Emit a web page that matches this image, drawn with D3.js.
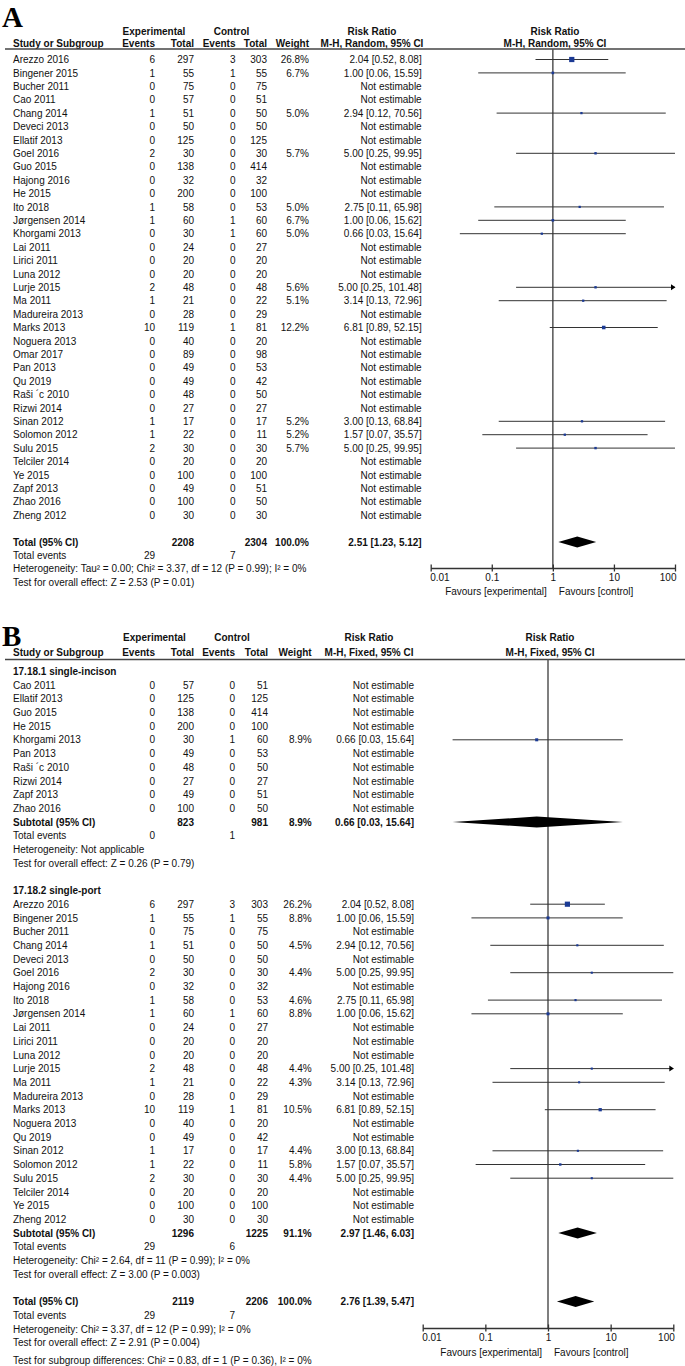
<!DOCTYPE html>
<html><head><meta charset="utf-8">
<script src="https://cdn.jsdelivr.net/npm/d3@7/dist/d3.min.js"></script>
<style>
html,body{margin:0;padding:0;background:#fff;}
svg text{font-family:"Liberation Sans",Arial,sans-serif;font-size:10px;fill:#111;}
</style></head>
<body>
<svg id="c" width="685" height="1366"></svg>
<script>
// ---------------- Panel A data ----------------
const studiesA = ["Arezzo 2016","Bingener 2015","Bucher 2011","Cao 2011","Chang 2014","Deveci 2013","Ellatif 2013","Goel 2016","Guo 2015","Hajong 2016","He 2015","Ito 2018","Jørgensen 2014","Khorgami 2013","Lai 2011","Lirici 2011","Luna 2012","Lurje 2015","Ma 2011","Madureira 2013","Marks 2013","Noguera 2013","Omar 2017","Pan 2013","Qu 2019","Raši ´c 2010","Rizwi 2014","Sinan 2012","Solomon 2012","Sulu 2015","Telciler 2014","Ye 2015","Zapf 2013","Zhao 2016","Zheng 2012"];
const expEventsA = [6,1,0,0,1,0,0,2,0,0,0,1,1,0,0,0,0,2,1,0,10,0,0,0,0,0,0,1,1,2,0,0,0,0,0];
const expTotalA  = [297,55,75,57,51,50,125,30,138,32,200,58,60,30,24,20,20,48,21,28,119,40,89,49,49,48,27,17,22,30,20,100,49,100,30];
const ctrlEventsA= [3,1,0,0,0,0,0,0,0,0,0,0,1,1,0,0,0,0,0,0,1,0,0,0,0,0,0,0,0,0,0,0,0,0,0];
const ctrlTotalA = [303,55,75,51,50,50,125,30,414,32,100,53,60,60,27,20,20,48,22,29,81,20,98,53,42,50,27,17,11,30,20,100,51,50,30];
const weightA    = [26.8,6.7,null,null,5.0,null,null,5.7,null,null,null,5.0,6.7,5.0,null,null,null,5.6,5.1,null,12.2,null,null,null,null,null,null,5.2,5.2,5.7,null,null,null,null,null];
const rrA        = [2.04,1.00,null,null,2.94,null,null,5.00,null,null,null,2.75,1.00,0.66,null,null,null,5.00,3.14,null,6.81,null,null,null,null,null,null,3.00,1.57,5.00,null,null,null,null,null];
const loA        = [0.52,0.06,null,null,0.12,null,null,0.25,null,null,null,0.11,0.06,0.03,null,null,null,0.25,0.13,null,0.89,null,null,null,null,null,null,0.13,0.07,0.25,null,null,null,null,null];
const hiA        = [8.08,15.59,null,null,70.56,null,null,99.95,null,null,null,65.98,15.62,15.64,null,null,null,101.48,72.96,null,52.15,null,null,null,null,null,null,68.84,35.57,99.95,null,null,null,null,null];
const totalA = {expTotal:2208, ctrlTotal:2304, weight:"100.0%", rr:2.51, lo:1.23, hi:5.12, expEv:29, ctrlEv:7};
const hetA = "Heterogeneity: Tau² = 0.00; Chi² = 3.37, df = 12 (P = 0.99); I² = 0%";
const testA = "Test for overall effect: Z = 2.53 (P = 0.01)";

// ---------------- Panel B data ----------------
const group1Title = "17.18.1 single-incison";
const studiesB1 = ["Cao 2011","Ellatif 2013","Guo 2015","He 2015","Khorgami 2013","Pan 2013","Raši ´c 2010","Rizwi 2014","Zapf 2013","Zhao 2016"];
const expEventsB1 = [0,0,0,0,0,0,0,0,0,0];
const expTotalB1  = [57,125,138,200,30,49,48,27,49,100];
const ctrlEventsB1= [0,0,0,0,1,0,0,0,0,0];
const ctrlTotalB1 = [51,125,414,100,60,53,50,27,51,50];
const weightB1    = [null,null,null,null,8.9,null,null,null,null,null];
const rrB1        = [null,null,null,null,0.66,null,null,null,null,null];
const loB1        = [null,null,null,null,0.03,null,null,null,null,null];
const hiB1        = [null,null,null,null,15.64,null,null,null,null,null];
const subB1 = {expTotal:823, ctrlTotal:981, weight:"8.9%", rr:0.66, lo:0.03, hi:15.64, expEv:0, ctrlEv:1};
const hetB1 = "Heterogeneity: Not applicable";
const testB1 = "Test for overall effect: Z = 0.26 (P = 0.79)";

const group2Title = "17.18.2 single-port";
const studiesB2 = ["Arezzo 2016","Bingener 2015","Bucher 2011","Chang 2014","Deveci 2013","Goel 2016","Hajong 2016","Ito 2018","Jørgensen 2014","Lai 2011","Lirici 2011","Luna 2012","Lurje 2015","Ma 2011","Madureira 2013","Marks 2013","Noguera 2013","Qu 2019","Sinan 2012","Solomon 2012","Sulu 2015","Telciler 2014","Ye 2015","Zheng 2012"];
const expEventsB2 = [6,1,0,1,0,2,0,1,1,0,0,0,2,1,0,10,0,0,1,1,2,0,0,0];
const expTotalB2  = [297,55,75,51,50,30,32,58,60,24,20,20,48,21,28,119,40,49,17,22,30,20,100,30];
const ctrlEventsB2= [3,1,0,0,0,0,0,0,1,0,0,0,0,0,0,1,0,0,0,0,0,0,0,0];
const ctrlTotalB2 = [303,55,75,50,50,30,32,53,60,27,20,20,48,22,29,81,20,42,17,11,30,20,100,30];
const weightB2    = [26.2,8.8,null,4.5,null,4.4,null,4.6,8.8,null,null,null,4.4,4.3,null,10.5,null,null,4.4,5.8,4.4,null,null,null];
const rrB2        = [2.04,1.00,null,2.94,null,5.00,null,2.75,1.00,null,null,null,5.00,3.14,null,6.81,null,null,3.00,1.57,5.00,null,null,null];
const loB2        = [0.52,0.06,null,0.12,null,0.25,null,0.11,0.06,null,null,null,0.25,0.13,null,0.89,null,null,0.13,0.07,0.25,null,null,null];
const hiB2        = [8.08,15.59,null,70.56,null,99.95,null,65.98,15.62,null,null,null,101.48,72.96,null,52.15,null,null,68.84,35.57,99.95,null,null,null];
const subB2 = {expTotal:1296, ctrlTotal:1225, weight:"91.1%", rr:2.97, lo:1.46, hi:6.03, expEv:29, ctrlEv:6};
const hetB2 = "Heterogeneity: Chi² = 2.64, df = 11 (P = 0.99); I² = 0%";
const testB2 = "Test for overall effect: Z = 3.00 (P = 0.003)";
const totalB = {expTotal:2119, ctrlTotal:2206, weight:"100.0%", rr:2.76, lo:1.39, hi:5.47, expEv:29, ctrlEv:7};
const hetB = "Heterogeneity: Chi² = 3.37, df = 12 (P = 0.99); I² = 0%";
const testB = "Test for overall effect: Z = 2.91 (P = 0.004)";
const subgroupB = "Test for subgroup differences: Chi² = 0.83, df = 1 (P = 0.36), I² = 0%";

const tickValues = [0.01,0.1,1,10,100];
const tickLabels = ["0.01","0.1","1","10","100"];

// ---------------- helpers ----------------
const svg = d3.select("#c");
const fmt2 = d3.format(".2f");
const ciText = (rr,lo,hi) => rr==null ? "Not estimable" : `${fmt2(rr)} [${fmt2(lo)}, ${fmt2(hi)}]`;

function studyRows(names, ee, et, ce, ct, w, rr, lo, hi){
  return names.map((n,i)=>({type:"study", name:n, ee:ee[i], et:et[i], ce:ce[i], ct:ct[i], w:w[i], rr:rr[i], lo:lo[i], hi:hi[i]}));
}

function drawPanel(p){
  const g = svg.append("g");
  const x = d3.scaleLog().domain([0.01,100]).range(p.xRange);
  const c = p.cols;
  const T = (xx,yy,s,anchor,bold)=> g.append("text").attr("x",xx).attr("y",yy+3.6)
      .attr("text-anchor",anchor||"start").style("font-weight",bold?"bold":"normal").text(s);

  // panel letter
  g.append("text").attr("x",p.letterX).attr("y",p.letterY).text(p.letter)
    .style("font-family","'Liberation Serif','Times New Roman',serif").style("font-size","29px").style("font-weight","bold").style("fill","#000");

  // headers
  T(c.expC, p.h1, "Experimental","middle",true);
  T(c.ctlC, p.h1, "Control","middle",true);
  T(c.rrC, p.h1, "Risk Ratio","middle",true);
  T(p.plotC, p.h1, "Risk Ratio","middle",true);
  T(c.name, p.h2, "Study or Subgroup","start",true);
  T(c.ee, p.h2, "Events","end",true);
  T(c.et, p.h2, "Total","end",true);
  T(c.ce, p.h2, "Events","end",true);
  T(c.ct, p.h2, "Total","end",true);
  T(c.w, p.h2, "Weight","end",true);
  T(c.rrC, p.h2, p.method,"middle",true);
  T(p.plotC, p.h2, p.method,"middle",true);
  g.append("line").attr("x1",5).attr("x2",685).attr("y1",p.lineY).attr("y2",p.lineY)
    .attr("stroke","#444").attr("stroke-width",1.4);

  // vertical line of no effect
  g.append("line").attr("x1",x(1)).attr("x2",x(1)).attr("y1",p.lineY).attr("y2",p.axisY)
    .attr("stroke","#555").attr("stroke-width",1.5);

  const yOf = i => p.y0 + p.dy*i;
  p.rows.forEach((r,i)=>{
    const y = yOf(i) + (r.extra||0);
    if(r.type==="study"){
      T(c.name,y,r.name); T(c.ee,y,r.ee,"end"); T(c.et,y,r.et,"end");
      T(c.ce,y,r.ce,"end"); T(c.ct,y,r.ct,"end");
      if(r.w!=null) T(c.w,y,d3.format(".1f")(r.w)+"%","end");
      T(c.ci,y,ciText(r.rr,r.lo,r.hi),"end");
      if(r.rr!=null){
        const hiC = Math.min(r.hi,100);
        g.append("line").attr("x1",x(r.lo)).attr("x2",x(hiC)).attr("y1",y).attr("y2",y)
          .attr("stroke","#333").attr("stroke-width",1);
        if(r.hi>100){
          const xe = x(100);
          g.append("path").attr("d",`M${xe-4},${y-3}L${xe+0.5},${y}L${xe-4},${y+3}Z`).attr("fill","#000");
        }
        const s = Math.max(2, 5.2*Math.sqrt(r.w/26.5));
        g.append("rect").attr("x",x(r.rr)-s/2).attr("y",y-s/2).attr("width",s).attr("height",s)
          .attr("fill","#1b3a94");
      }
    } else if(r.type==="heading"){
      T(c.name,y,r.text,"start",true);
    } else if(r.type==="pooled"){
      const d = r.d;
      T(c.name,y,r.text,"start",true);
      T(c.et,y,d.expTotal,"end",true); T(c.ct,y,d.ctrlTotal,"end",true);
      T(c.w,y,d.weight,"end",true); T(c.ci,y,ciText(d.rr,d.lo,d.hi),"end",true);
      const h=5.5;
      g.append("path").attr("d",`M${x(d.lo)},${y}L${x(d.rr)},${y-h}L${x(d.hi)},${y}L${x(d.rr)},${y+h}Z`).attr("fill","#000");
    } else if(r.type==="events"){
      T(c.name,y,"Total events"); T(c.ee,y,r.d.expEv,"end"); T(c.ce,y,r.d.ctrlEv,"end");
    } else if(r.type==="text"){
      T(c.name,y,r.text);
    }
  });

  // axis
  const axis = d3.axisBottom(x).tickValues(tickValues).tickFormat((d,i)=>tickLabels[i])
    .tickSizeInner(7).tickSizeOuter(0).tickPadding(2);
  const ag = g.append("g").attr("transform",`translate(0,${p.axisY})`).call(axis);
  ag.select(".domain").attr("stroke","#333").attr("stroke-width",1.5);
  ag.selectAll(".tick line").attr("y1",-3.5).attr("y2",3.5).attr("stroke","#333").attr("stroke-width",1.3);
  ag.selectAll(".tick text").attr("y",6).attr("dy","0.71em").style("font-family","'Liberation Sans',Arial,sans-serif").style("font-size","10px").attr("fill","#111");
  ag.selectAll(".tick text").filter((d,i)=>i===0).attr("text-anchor","start").attr("dx",-1);
  ag.selectAll(".tick text").filter((d,i)=>i===tickValues.length-1).attr("text-anchor","end").attr("dx",1);
  T(x(1)-6, p.favY, "Favours [experimental]","end");
  T(x(1)+6, p.favY, "Favours [control]","start");
}

// ---------------- Panel A ----------------
const rowsA = studyRows(studiesA,expEventsA,expTotalA,ctrlEventsA,ctrlTotalA,weightA,rrA,loA,hiA)
  .concat([{type:"blank"},{type:"pooled",text:"Total (95% CI)",d:totalA},{type:"events",d:totalA},{type:"text",text:hetA},{type:"text",text:testA}]);
drawPanel({
  letter:"A", letterX:2, letterY:27,
  xRange:[430.7,675], plotC:555, method:"M-H, Random, 95% CI",
  cols:{name:13, ee:155, et:194, ce:235.5, ct:267, w:309, ci:421.7, expC:154, ctlC:231.5, rrC:372},
  h1:31, h2:43.5, lineY:49, y0:59.5, dy:13.4, rows:rowsA, axisY:568, favY:591
});

// ---------------- Panel B ----------------
const rowsB = [{type:"heading",text:group1Title}]
  .concat(studyRows(studiesB1,expEventsB1,expTotalB1,ctrlEventsB1,ctrlTotalB1,weightB1,rrB1,loB1,hiB1))
  .concat([{type:"pooled",text:"Subtotal (95% CI)",d:subB1},{type:"events",d:subB1},{type:"text",text:hetB1},{type:"text",text:testB1},{type:"blank"},
           {type:"heading",text:group2Title}])
  .concat(studyRows(studiesB2,expEventsB2,expTotalB2,ctrlEventsB2,ctrlTotalB2,weightB2,rrB2,loB2,hiB2))
  .concat([{type:"pooled",text:"Subtotal (95% CI)",d:subB2},{type:"events",d:subB2},{type:"text",text:hetB2},{type:"text",text:testB2},{type:"blank"},
           {type:"pooled",text:"Total (95% CI)",d:totalB},{type:"events",d:totalB},{type:"text",text:hetB},{type:"text",text:testB},{type:"text",text:subgroupB,extra:4}]);
drawPanel({
  letter:"B", letterX:2, letterY:646,
  xRange:[422.7,673.3], plotC:550, method:"M-H, Fixed, 95% CI",
  cols:{name:13, ee:155, et:194, ce:235, ct:268, w:311.7, ci:414, expC:154.5, ctlC:232, rrC:369},
  h1:637, h2:652, lineY:659.5, y0:671.3, dy:13.7, rows:rowsB, axisY:1328, favY:1352.5
});
</script>
</body></html>
